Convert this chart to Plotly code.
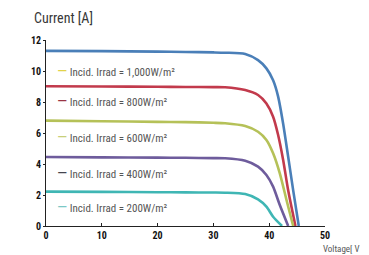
import plotly.graph_objects as go

# ---- data ----
irrad_labels = ["Incid. Irrad = 1,000W/m²", "Incid. Irrad = 800W/m²", "Incid. Irrad = 600W/m²",
                "Incid. Irrad = 400W/m²", "Incid. Irrad = 200W/m²"]

v_1000 = [0, 10, 20, 25, 30, 32.1, 35.7, 38, 39.5, 40.7, 41.6, 42.5, 43.4, 44.3, 45.3]
i_1000 = [11.3, 11.28, 11.25, 11.23, 11.2, 11.18, 11.1, 10.7, 10.17, 9.4, 8.35, 6.6, 4.47, 2.3, 0]

v_800 = [0, 10, 20, 25, 30, 32.1, 35.7, 38, 39.5, 40.7, 41.6, 42.5, 43.4, 44.7]
i_800 = [9.02, 9.0, 8.98, 8.97, 8.96, 8.95, 8.77, 8.45, 7.9, 7.05, 5.87, 4.26, 2.3, 0]

v_600 = [0, 10, 20, 25, 30, 32.1, 35.7, 38, 39.5, 40.7, 41.9, 43.1, 44.3]
i_600 = [6.8, 6.76, 6.72, 6.7, 6.66, 6.63, 6.45, 6.08, 5.55, 4.69, 3.4, 1.68, 0]

v_400 = [0, 10, 20, 25, 30, 32.1, 35.7, 38, 39.5, 40.7, 41.9, 43.4]
i_400 = [4.45, 4.43, 4.41, 4.4, 4.38, 4.37, 4.21, 3.83, 3.29, 2.54, 1.35, 0]

v_200 = [0, 10, 20, 25, 30, 32.1, 35.7, 38, 39.5, 40.7, 42.3]
i_200 = [2.22, 2.2, 2.18, 2.17, 2.16, 2.15, 2.06, 1.72, 1.25, 0.6, 0]

x_ticks = [0, 10, 20, 30, 40, 50]
y_ticks = [0, 2, 4, 6, 8, 10, 12]

# ---- styling ----
line_colors = ["#4a7fb8", "#c23a4c", "#b5c158", "#6e5c9c", "#3fb6b4"]
swatch_colors = ["#e2d24a", "#9a3444", "#c8cf7a", "#45454f", "#7cc8c6"]
legend_y = [10.0, 8.05, 5.75, 3.45, 1.25]   # layout positions of legend rows (data units)
fam = "Roboto Condensed, Liberation Sans Narrow, Roboto, sans-serif"


def nfont(size, color, weight=None):
    d = dict(family=fam, size=size, color=color)
    if weight:
        d["weight"] = weight
    return d


series = [(v_1000, i_1000), (v_800, i_800), (v_600, i_600), (v_400, i_400), (v_200, i_200)]

fig = go.Figure()
for (v, i), c in zip(series, line_colors):
    fig.add_trace(go.Scatter(x=v, y=i, mode="lines",
                             line=dict(color=c, width=2.6, shape="spline", smoothing=0.7),
                             showlegend=False, hoverinfo="skip"))

for lab, c, yy in zip(irrad_labels, swatch_colors, legend_y):
    fig.add_annotation(x=1.6, y=yy, xref="x", yref="y", xanchor="left", yanchor="middle",
                       text=f"<span style='color:{c};font-size:15px'>—</span> {lab}",
                       showarrow=False, font=nfont(11, "#555555"))

fig.add_annotation(x=-0.05, y=1.118, xref="paper", yref="paper", xanchor="left", yanchor="middle",
                   text="Current [A]", showarrow=False, font=nfont(14, "#383838"))
fig.add_annotation(x=0.985, y=-0.125, xref="paper", yref="paper", xanchor="left", yanchor="middle",
                   text="Voltage[ V", showarrow=False, font=nfont(9, "#555555"))

fig.update_xaxes(range=[0, 50], tickvals=x_ticks,
                 showgrid=False, zeroline=False, showline=True, linecolor="#222222", linewidth=1,
                 ticks="inside", ticklen=3, tickcolor="#222222",
                 tickfont=nfont(10, "#111111", "bold"))
fig.update_yaxes(range=[0, 12], tickvals=y_ticks,
                 showgrid=False, zeroline=False, showline=True, linecolor="#222222", linewidth=1,
                 ticks="outside", ticklen=2, tickcolor="#222222",
                 tickfont=nfont(10, "#111111", "bold"))

# page body has an ~8px default margin; compensate so the plot area lands where the reference has it
fig.update_layout(width=361, height=247, margin=dict(l=38, r=44, t=32, b=29),
                  paper_bgcolor="white", plot_bgcolor="white")

fig.write_html("out.html")
